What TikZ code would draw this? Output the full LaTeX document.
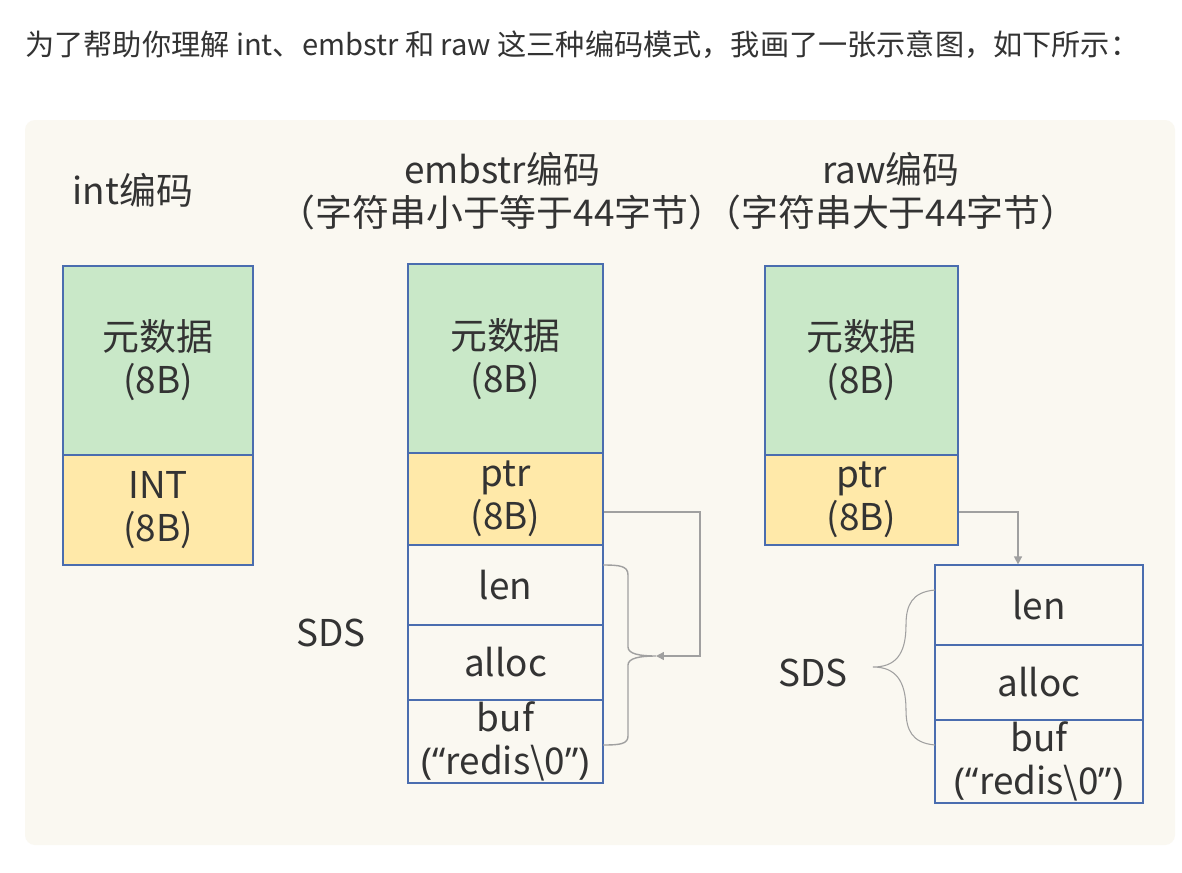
\documentclass[tikz,border=0pt]{standalone}
\usepackage{fontspec}
\setmainfont{Noto Sans CJK SC}
\newfontfamily\quotefont{Noto Sans}
\usetikzlibrary{arrows.meta, positioning, calc}

\definecolor{panelbg}{HTML}{FAF8F1}
\definecolor{boxblue}{HTML}{4A6DAF}
\definecolor{metagreen}{HTML}{C9E8C8}
\definecolor{ptryellow}{HTML}{FFE9A9}
\definecolor{inkgray}{HTML}{333333}
\definecolor{linkgray}{HTML}{A0A0A0}

\newcommand{\boxfont}{\fontsize{21}{24.5}\selectfont}
\newcommand{\bufline}{{\quotefont(“}redis\textbackslash 0{\quotefont”)}}

\begin{document}
\begin{tikzpicture}[
    x=0.02cm, y=-0.02cm,
    metabox/.style={rectangle, draw=boxblue, line width=0.7pt, fill=metagreen, align=center, inner sep=0pt, font=\boxfont, text=inkgray},
    ptrbox/.style={rectangle, draw=boxblue, line width=0.7pt, fill=ptryellow, align=center, inner sep=0pt, font=\boxfont, text=inkgray},
    sdsbox/.style={rectangle, draw=boxblue, line width=0.7pt, fill=panelbg, align=center, inner sep=0pt, font=\boxfont, text=inkgray},
    title/.style={align=center, font=\boxfont, text=inkgray},
    link/.style={draw=linkgray, line width=0.8pt, -{Triangle[length=4.5pt, width=4.5pt]}},
    bracket/.style={draw=linkgray, line width=0.8pt},
    curly/.style={draw=linkgray, line width=0.6pt}
]

\useasboundingbox (0,0) rectangle (1182,872);
\fill[white] (0,0) rectangle (1182,872);

% Intro line
\node[anchor=west, font=\fontsize{16.6}{19}\selectfont, text=inkgray, inner sep=0pt] (intro) at (25,45)
    {为了帮助你理解 int、embstr 和 raw 这三种编码模式，我画了一张示意图，如下所示：};

% Panel
\fill[panelbg, rounded corners=0.2cm] (25,120) rectangle (1175,845);

% Titles
\node[title] (inttitle) at (133,190) {int编码};
\node[title] (embtitle) at (502,191) {embstr编码\\（字符串小于等于44字节）};
\node[title] (rawtitle) at (891,191) {raw编码\\（字符串大于44字节）};

% int column
\node[metabox, minimum width=3.8cm, minimum height=3.78cm] (intmeta) at (158,360.5) {元数据\\(8B)};
\node[ptrbox, minimum width=3.8cm, minimum height=2.2cm] (intval) at (158,510) {INT\\(8B)};

% embstr column
\node[metabox, minimum width=3.9cm, minimum height=3.8cm] (emeta) at (505.5,359) {元数据\\(8B)};
\node[ptrbox, minimum width=3.9cm, minimum height=1.84cm] (eptr) at (505.5,499) {ptr\\(8B)};
\node[sdsbox, minimum width=3.9cm, minimum height=1.6cm] (elen) at (505.5,585) {len};
\node[sdsbox, minimum width=3.9cm, minimum height=1.5cm] (ealloc) at (505.5,662.5) {alloc};
\node[sdsbox, minimum width=3.9cm, minimum height=1.66cm] (ebuf) at (505.5,741.5) {buf\\\bufline};
\node[title] (esds) at (331,633) {SDS};

% embstr ptr points back into its own SDS
\coordinate (etip) at (656,656);
\draw[bracket] (603,565) .. controls (620,565) and (628,566) .. (628,575) -- (628,647)
    .. controls (628,654) and (640,656) .. (etip)
    .. controls (640,656) and (628,658) .. (628,665) -- (628,736)
    .. controls (628,744) and (620,745) .. (603,745);
\draw[link] ([yshift=-0.26cm]eptr.east) -| (700,656) -- (etip);

% raw column
\node[metabox, minimum width=3.86cm, minimum height=3.78cm] (rmeta) at (861.5,360.5) {元数据\\(8B)};
\node[ptrbox, minimum width=3.86cm, minimum height=1.8cm] (rptr) at (861.5,500) {ptr\\(8B)};
\node[sdsbox, minimum width=4.16cm, minimum height=1.6cm] (rlen) at (1039,605) {len};
\node[sdsbox, minimum width=4.16cm, minimum height=1.5cm] (ralloc) at (1039,682.5) {alloc};
\node[sdsbox, minimum width=4.16cm, minimum height=1.66cm] (rbuf) at (1039,761.5) {buf\\\bufline};
\node[title] (rsds) at (813,673) {SDS};

% raw ptr points to a separate SDS
\coordinate (rin) at ([xshift=-0.42cm]rlen.north);
\draw[link] ([yshift=-0.24cm]rptr.east) -| (rin);
\coordinate (rtip) at (873,667);
\draw[curly] (935,590) .. controls (912,592) and (906,605) .. (906,625)
    .. controls (906,655) and (895,667) .. (rtip)
    .. controls (895,667) and (906,680) .. (906,710)
    .. controls (906,730) and (912,743) .. (935,745);

\end{tikzpicture}
\end{document}
